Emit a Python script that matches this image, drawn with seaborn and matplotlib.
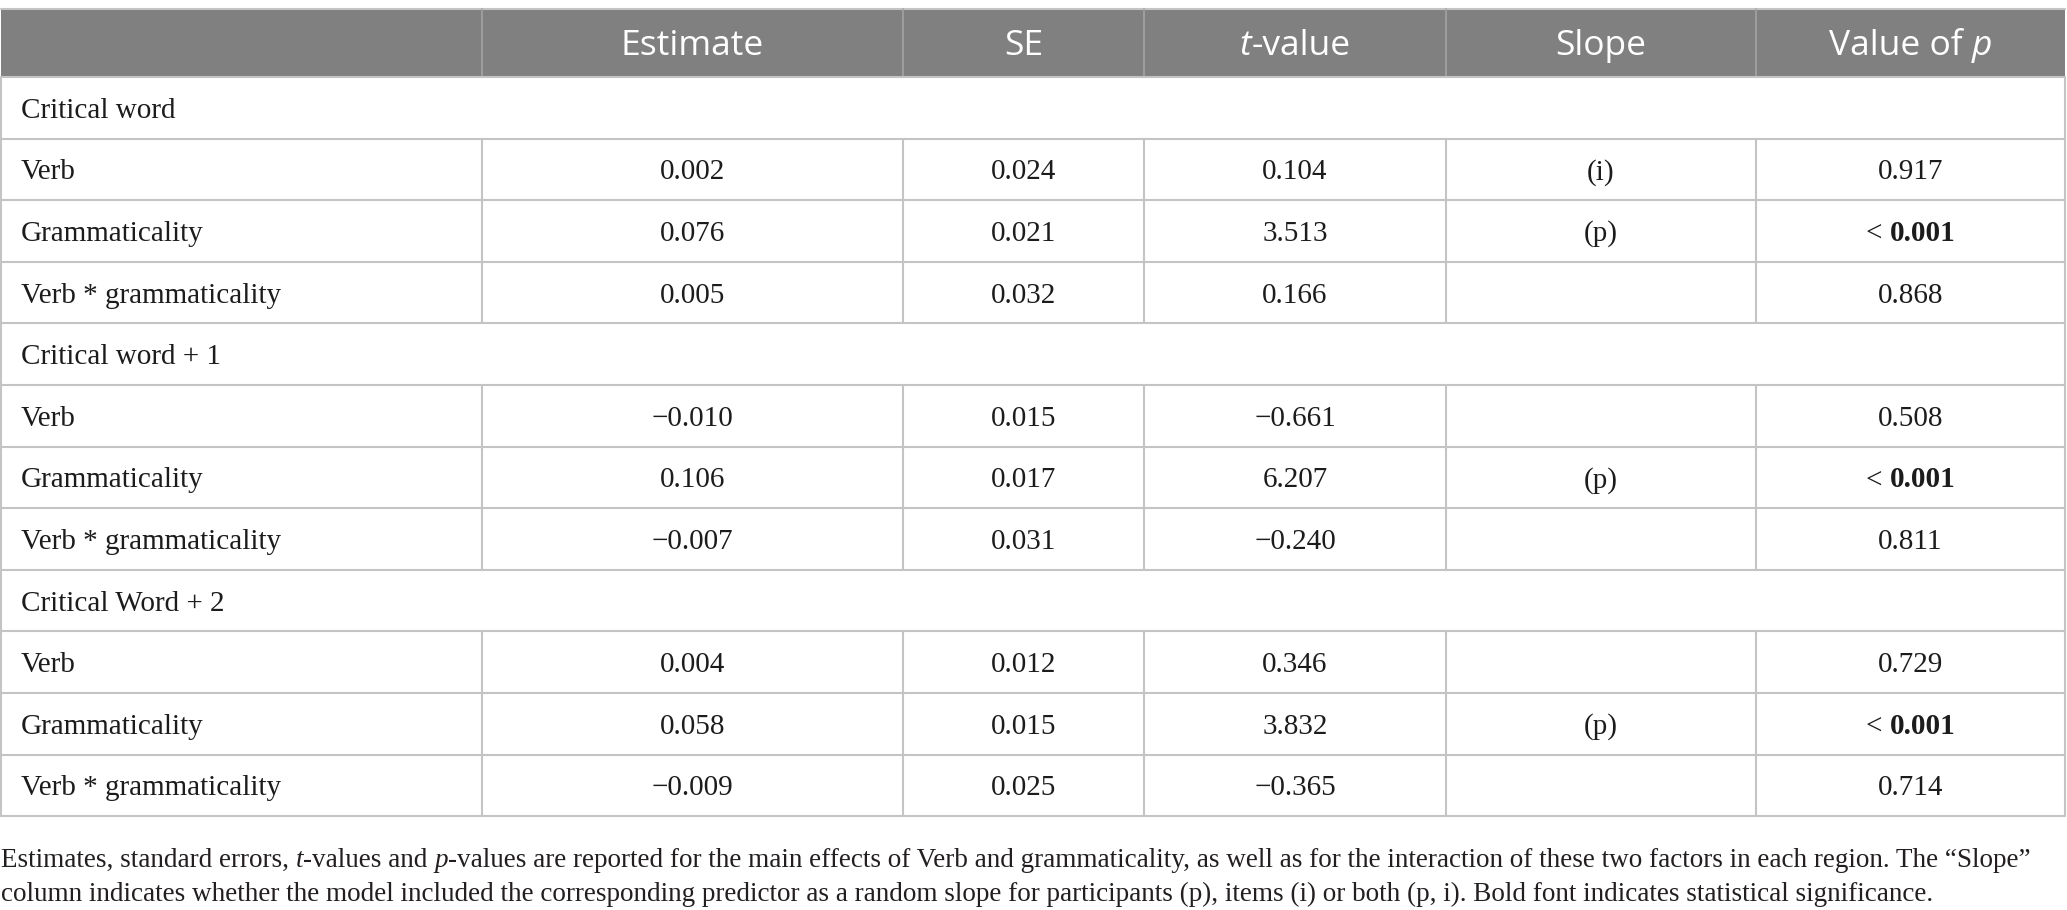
import seaborn as sns
from matplotlib import pyplot as plt

# table content
columns = ["Estimate", "SE", "t-value", "Slope", "Value of p"]
regions = ["Critical word", "Critical word + 1", "Critical Word + 2"]
effects = ["Verb", "Grammaticality", "Verb * grammaticality"]
estimates = [[0.002, 0.076, 0.005], [-0.010, 0.106, -0.007], [0.004, 0.058, -0.009]]
std_errors = [[0.024, 0.021, 0.032], [0.015, 0.017, 0.031], [0.012, 0.015, 0.025]]
t_values = [[0.104, 3.513, 0.166], [-0.661, 6.207, -0.240], [0.346, 3.832, -0.365]]
slopes = [["(i)", "(p)", ""], ["", "(p)", ""], ["", "(p)", ""]]
p_values = [[0.917, 0.001, 0.868], [0.508, 0.001, 0.811], [0.729, 0.001, 0.714]]
caption_1 = ["Estimates, standard errors, ", ("t", "italic"), "-values and ", ("p", "italic"),
             "-values are reported for the main effects of Verb and grammaticality, as well as for "
             "the interaction of these two factors in each region. The \u201cSlope\u201d"]
caption_2 = ["column indicates whether the model included the corresponding predictor as a random "
             "slope for participants (p), items (i) or both (p, i). Bold font indicates statistical "
             "significance."]

W, H = 2067, 910
col_edges = [1, 482, 903, 1144, 1446, 1756, 2065]
top, head_bottom, row_h = 9, 77, 61.6

sns.set_theme(style="white")
SERIF = "Liberation Serif"
SANS = "Open Sans"
BODY_SIZE = 21
HEAD_SIZE = 25.5
CAP_SIZE = 19.5
GRID = "#c4c4c4"
TEXT = "#1c1c1c"

fig = plt.figure(figsize=(W / 100, H / 100), dpi=100)
ax = fig.add_axes([0, 0, 1, 1])
ax.set_xlim(0, W)
ax.set_ylim(H, 0)
ax.axis("off")
renderer = fig.canvas.get_renderer()


def fmt(v):
    return f"{v:.3f}".replace("-", "\u2212")


def runs_text(runs, x, y, ha="left", size=BODY_SIZE, family=SERIF, color=TEXT):
    # draw a line made of differently styled pieces, spaces kept as gaps
    probe = ax.text(0, 0, "a a", family=family, fontsize=size)
    probe2 = ax.text(0, 0, "aa", family=family, fontsize=size)
    space = probe.get_window_extent(renderer).width - probe2.get_window_extent(renderer).width
    probe.remove()
    probe2.remove()
    pieces = []
    for r in runs:
        s, style = (r, "normal") if isinstance(r, str) else r
        lead = len(s) - len(s.lstrip(" "))
        trail = len(s) - len(s.rstrip(" "))
        kw = dict(family=family, fontsize=size, color=color, va="baseline")
        if style == "italic":
            kw["style"] = "italic"
        if style == "bold":
            kw["weight"] = "bold"
        t = ax.text(0, y, s.strip(" "), **kw)
        w = t.get_window_extent(renderer).width
        pieces.append((t, lead * space, w, trail * space))
    total = sum(a + b + c for _, a, b, c in pieces)
    cx = x - total / 2 if ha == "center" else x
    for t, a, b, c in pieces:
        cx += a
        t.set_x(cx)
        cx += b + c


# header band
ax.add_patch(plt.Rectangle((col_edges[0], top), col_edges[-1] - col_edges[0], head_bottom - top,
                           facecolor="#808080", edgecolor="none"))
ax.plot([col_edges[0], col_edges[-1]], [top, top], color=GRID, lw=1.5)
for xe in col_edges[1:-1]:
    ax.plot([xe, xe], [top, head_bottom], color="#a3a3a3", lw=1.2)
head_base = (top + head_bottom) / 2 + 12
header_runs = [["Estimate"], ["SE"], [("t", "italic"), "-value"], ["Slope"], ["Value of ", ("p", "italic")]]
for i, runs in enumerate(header_runs):
    xc = (col_edges[i + 1] + col_edges[i + 2]) / 2
    runs_text(runs, xc, head_base, ha="center", size=HEAD_SIZE, family=SANS, color="white")

# body rows
y = head_bottom
for g, region in enumerate(regions):
    ax.plot([col_edges[0], col_edges[-1]], [y, y], color=GRID, lw=1.5)
    ax.plot([col_edges[0], col_edges[0]], [y, y + row_h], color=GRID, lw=1.5)
    ax.plot([col_edges[-1], col_edges[-1]], [y, y + row_h], color=GRID, lw=1.5)
    runs_text([region], 21, y + row_h / 2 + 10)
    y += row_h
    for k, effect in enumerate(effects):
        ax.plot([col_edges[0], col_edges[-1]], [y, y], color=GRID, lw=1.5)
        for xe in col_edges:
            ax.plot([xe, xe], [y, y + row_h], color=GRID, lw=1.5)
        base = y + row_h / 2 + 10
        runs_text([effect], 21, base)
        cells = [fmt(estimates[g][k]), fmt(std_errors[g][k]), fmt(t_values[g][k]), slopes[g][k]]
        for c, val in enumerate(cells):
            if val:
                runs_text([val], (col_edges[c + 1] + col_edges[c + 2]) / 2, base, ha="center")
        p = p_values[g][k]
        p_runs = ["< ", ("0.001", "bold")] if p <= 0.001 else [f"{p:.3f}"]
        runs_text(p_runs, (col_edges[5] + col_edges[6]) / 2, base, ha="center")
        y += row_h
ax.plot([col_edges[0], col_edges[-1]], [y, y], color=GRID, lw=1.5)

# caption
runs_text(caption_1, 1, 867, size=CAP_SIZE, color="#231f20")
runs_text(caption_2, 1, 901, size=CAP_SIZE, color="#231f20")

fig.savefig("out.png", dpi=100)
